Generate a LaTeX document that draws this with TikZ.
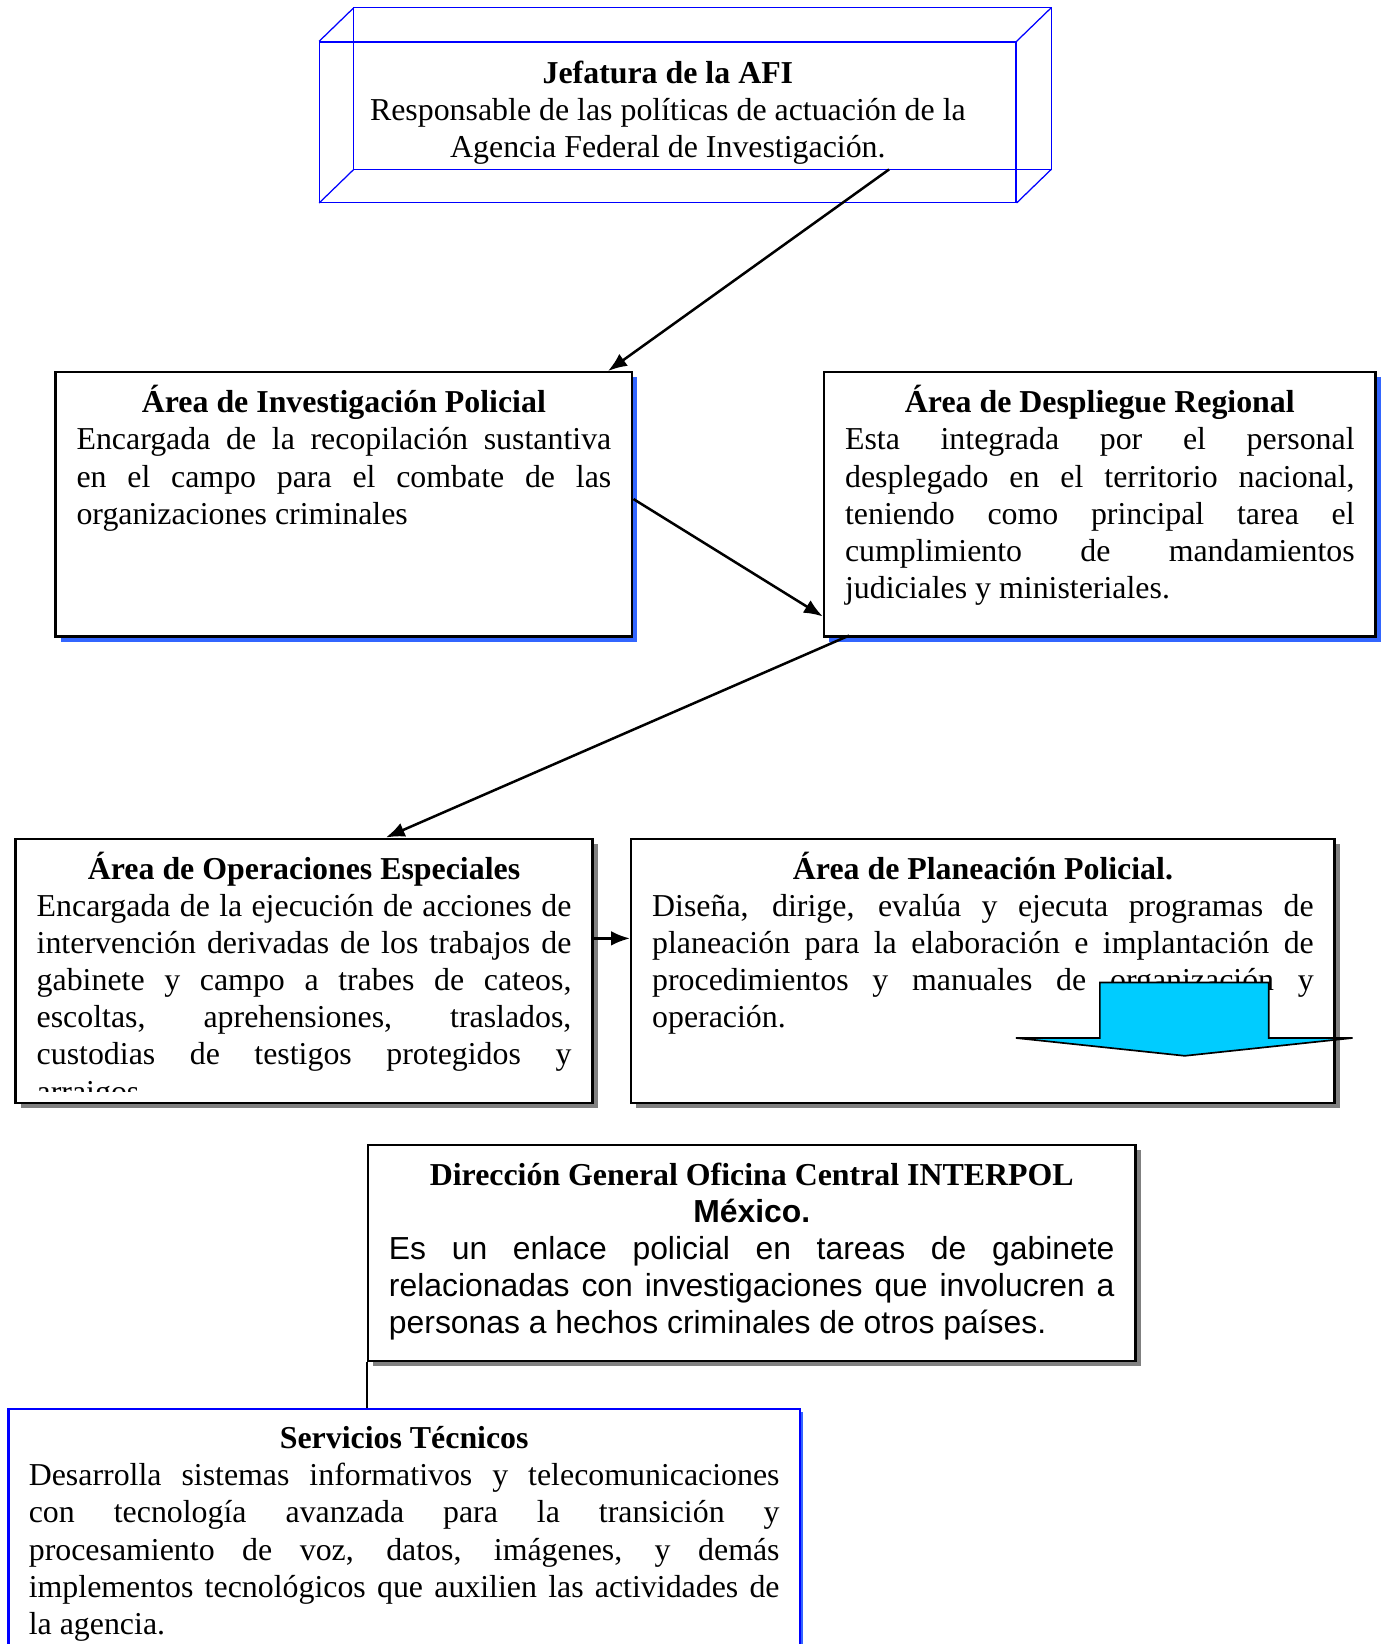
\documentclass[tikz,border=0pt]{standalone}
\usepackage{fontspec}
\setmainfont{Liberation Serif}
\newfontfamily\arialfont{Liberation Sans}
\usetikzlibrary{arrows.meta, shadows}

\definecolor{shadeblue}{RGB}{51,102,255}
\definecolor{shadegray}{RGB}{128,128,128}
\definecolor{arrowcyan}{RGB}{0,204,255}
\definecolor{afiblue}{RGB}{0,0,255}
\newcommand{\topline}{\rule{0pt}{19.75pt}}
\hyphenpenalty=10000
\exhyphenpenalty=10000
\tolerance=10000
\hbadness=10000

\tikzset{
    every node/.style={font=\fontsize{15.2}{17.7}\selectfont},
    box/.style={draw, line width=1.2pt, fill=white, inner sep=0pt},
    blueshade/.style={general shadow={fill=shadeblue, shadow xshift=2.5pt, shadow yshift=-2.5pt}},
    grayshade/.style={general shadow={fill=shadegray, shadow xshift=2.5pt, shadow yshift=-2.5pt}},
    boxtext/.style={inner sep=0pt, anchor=north, align=justify},
    link/.style={line width=1.2pt, -{Latex[length=9pt, width=7pt]}}
}

\begin{document}
\begin{tikzpicture}[x=0.5pt, y=-0.5pt]
        \useasboundingbox (0,0) rectangle (1320,1568);

        % Jefatura
        \node[draw=afiblue, line width=0.6pt, minimum width=332pt, minimum height=76.5pt, inner sep=0pt] (afi) at (637,116.5) {};
        \draw[afiblue, line width=0.6pt] ([xshift=16.5pt, yshift=16pt]afi.south west) rectangle ([xshift=16.5pt, yshift=16pt]afi.north east);
        \foreach \c in {north west, north east, south west, south east}
            \draw[afiblue, line width=0.6pt] (afi.\c) -- ([xshift=16.5pt, yshift=16pt]afi.\c);
        \node[align=center, inner sep=0pt, anchor=north] (afi-text) at (afi.north) {\topline\textbf{Jefatura de la AFI}\\ Responsable de las políticas de actuación de la\\ Agencia Federal de Investigación.};

        % areas
        \node[box, blueshade, minimum width=275pt, minimum height=126pt] (inv) at (328,481) {};
        \node[box, blueshade, minimum width=263pt, minimum height=126pt] (des) at (1049,481) {};
        \node[box, grayshade, minimum width=275pt, minimum height=126pt] (ope) at (290,926) {};
        \node[box, grayshade, minimum width=335.5pt, minimum height=126pt] (pla) at (937.5,926) {};
        \node[box, grayshade, minimum width=366pt, minimum height=103pt] (dir) at (717,1195) {};
        \node[box, draw=afiblue, general shadow={fill=shadeblue, shadow xshift=1.5pt, shadow yshift=-1.5pt}, minimum width=377.5pt, minimum height=170pt] (ser) at (385.5,1514) {};

        \node[boxtext, text width=255pt] (inv-text) at (inv.north) {{\centering\bfseries\topline Área de Investigación Policial\par}
            Encargada de la recopilación sustantiva\linebreak en el campo para el combate de las\linebreak organizaciones criminales};
        \node[boxtext, text width=243pt] (des-text) at (des.north) {{\centering\bfseries\topline Área de Despliegue Regional\par}
            Esta integrada por el personal\linebreak desplegado en el territorio nacional,\linebreak teniendo como principal tarea el\linebreak cumplimiento de mandamientos\linebreak judiciales y ministeriales.};
        \begin{scope}
            \clip (15,800) rectangle (565,1041);
            \node[boxtext, text width=255pt] (ope-text) at (ope.north) {{\centering\bfseries\topline Área de Operaciones Especiales\par}
                Encargada de la ejecución de acciones de\linebreak intervención derivadas de los trabajos de\linebreak gabinete y campo a trabes de cateos,\linebreak escoltas, aprehensiones, traslados,\linebreak custodias de testigos protegidos y\linebreak arraigos};
        \end{scope}
        \node[boxtext, text width=315.5pt] (pla-text) at (pla.north) {{\centering\bfseries\topline Área de Planeación Policial.\par}
            Diseña, dirige, evalúa y ejecuta programas de\linebreak planeación para la elaboración e implantación de\linebreak procedimientos y manuales de organización y\linebreak operación.};
        \node[boxtext, text width=346pt] (dir-text) at (dir.north) {{\centering\bfseries\topline Dirección General Oficina Central INTERPOL\\ {\arialfont México.}\par}
            \arialfont Es un enlace policial en tareas de gabinete\linebreak relacionadas con investigaciones que involucren a\linebreak personas a hechos criminales de otros países.};
        \node[boxtext, text width=358pt] (ser-text) at ([yshift=0.5pt]ser.north) {{\centering\bfseries\topline Servicios Técnicos\par}
            Desarrolla sistemas informativos y telecomunicaciones\linebreak con tecnología avanzada para la transición y\linebreak procesamiento de voz, datos, imágenes, y demás\linebreak implementos tecnológicos que auxilien las actividades de\linebreak la agencia.};

        \draw[link] ([xshift=105.5pt, yshift=16pt]afi.south) -- ([xshift=126pt]inv.north);
        \draw[link] ([yshift=2.5pt]inv.east) -- ([yshift=-53.5pt]des.west);
        \draw[link] ([xshift=12.5pt, yshift=1pt]des.south west) -- ([xshift=39pt]ope.north);
        \draw[link] ([yshift=15.5pt]ope.east) -- ([yshift=15.5pt]pla.west);
        \draw[line width=1pt] (dir.south west) -- (dir.south west |- ser.north);

        % flecha
        \draw[fill=arrowcyan, line width=0.8pt] (1049,937) -- (1210,937) -- (1210,990) -- (1290,990)
            -- (1130,1007) -- (969,990) -- (1049,990) -- cycle;
    \end{tikzpicture}
\end{document}
